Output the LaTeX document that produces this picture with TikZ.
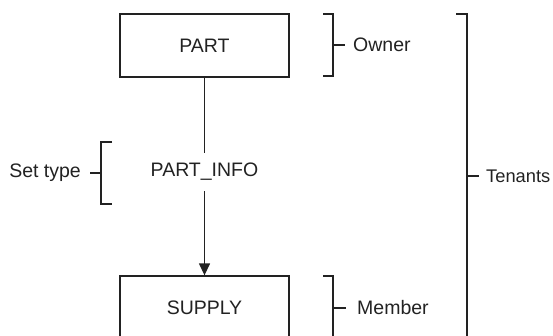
\documentclass[tikz,border=0pt]{standalone}
\usepackage{fontspec}
\setmainfont{Liberation Sans}
\usetikzlibrary{arrows.meta}
\definecolor{ink}{HTML}{222222}
\begin{document}
\begin{tikzpicture}[x=1pt,y=-1pt,
  every node/.style={text=ink,font=\fontsize{19.5}{23}\selectfont},
  box/.style={draw=ink,line width=1.3pt,minimum width=169pt,inner sep=0pt},
  brk/.style={draw=ink,line width=1.3pt},
  link/.style={draw=ink,line width=1.3pt}]
\useasboundingbox (0,0) rectangle (553,336);
\clip (0,0) rectangle (553,336);
\node[box,minimum height=63pt] (part) at (204.5,45.5) {PART};
\node[box,minimum height=64pt] (supply) at (204.5,308) {SUPPLY};
\node[inner sep=0pt,minimum height=38pt] (info) at (204.5,172) {PART\_INFO};
\draw[link] (part.south) -- (info.north);
\draw[link,-{Triangle[length=12pt,width=11pt]}] (info.south) -- (supply.north);
% Owner bracket
\draw[brk] (323,14) -- (333,14) -- (333,76) -- (323,76);
\draw[brk] (333,45) -- (345,45);
\node[anchor=west,inner sep=0pt] (owner) at (353,45) {Owner};
% Set type bracket
\draw[brk] (112,142) -- (101,142) -- (101,204) -- (112,204);
\draw[brk] (90,173) -- (101,173);
\node[anchor=east,inner sep=0pt] (settype) at (81,173) {Set type};
% Member bracket
\draw[brk] (323,276) -- (333,276) -- (333,340);
\draw[brk] (333,308) -- (346,308);
\node[anchor=west,inner sep=0pt] (member) at (357,308) {Member};
% Tenants bracket
\draw[brk] (456,14) -- (467,14) -- (467,340);
\draw[brk] (467,176) -- (479,176);
\node[anchor=west,inner sep=0pt,font=\fontsize{18.3}{22}\selectfont] (tenants) at (486,176) {Tenants};
\end{tikzpicture}
\end{document}
